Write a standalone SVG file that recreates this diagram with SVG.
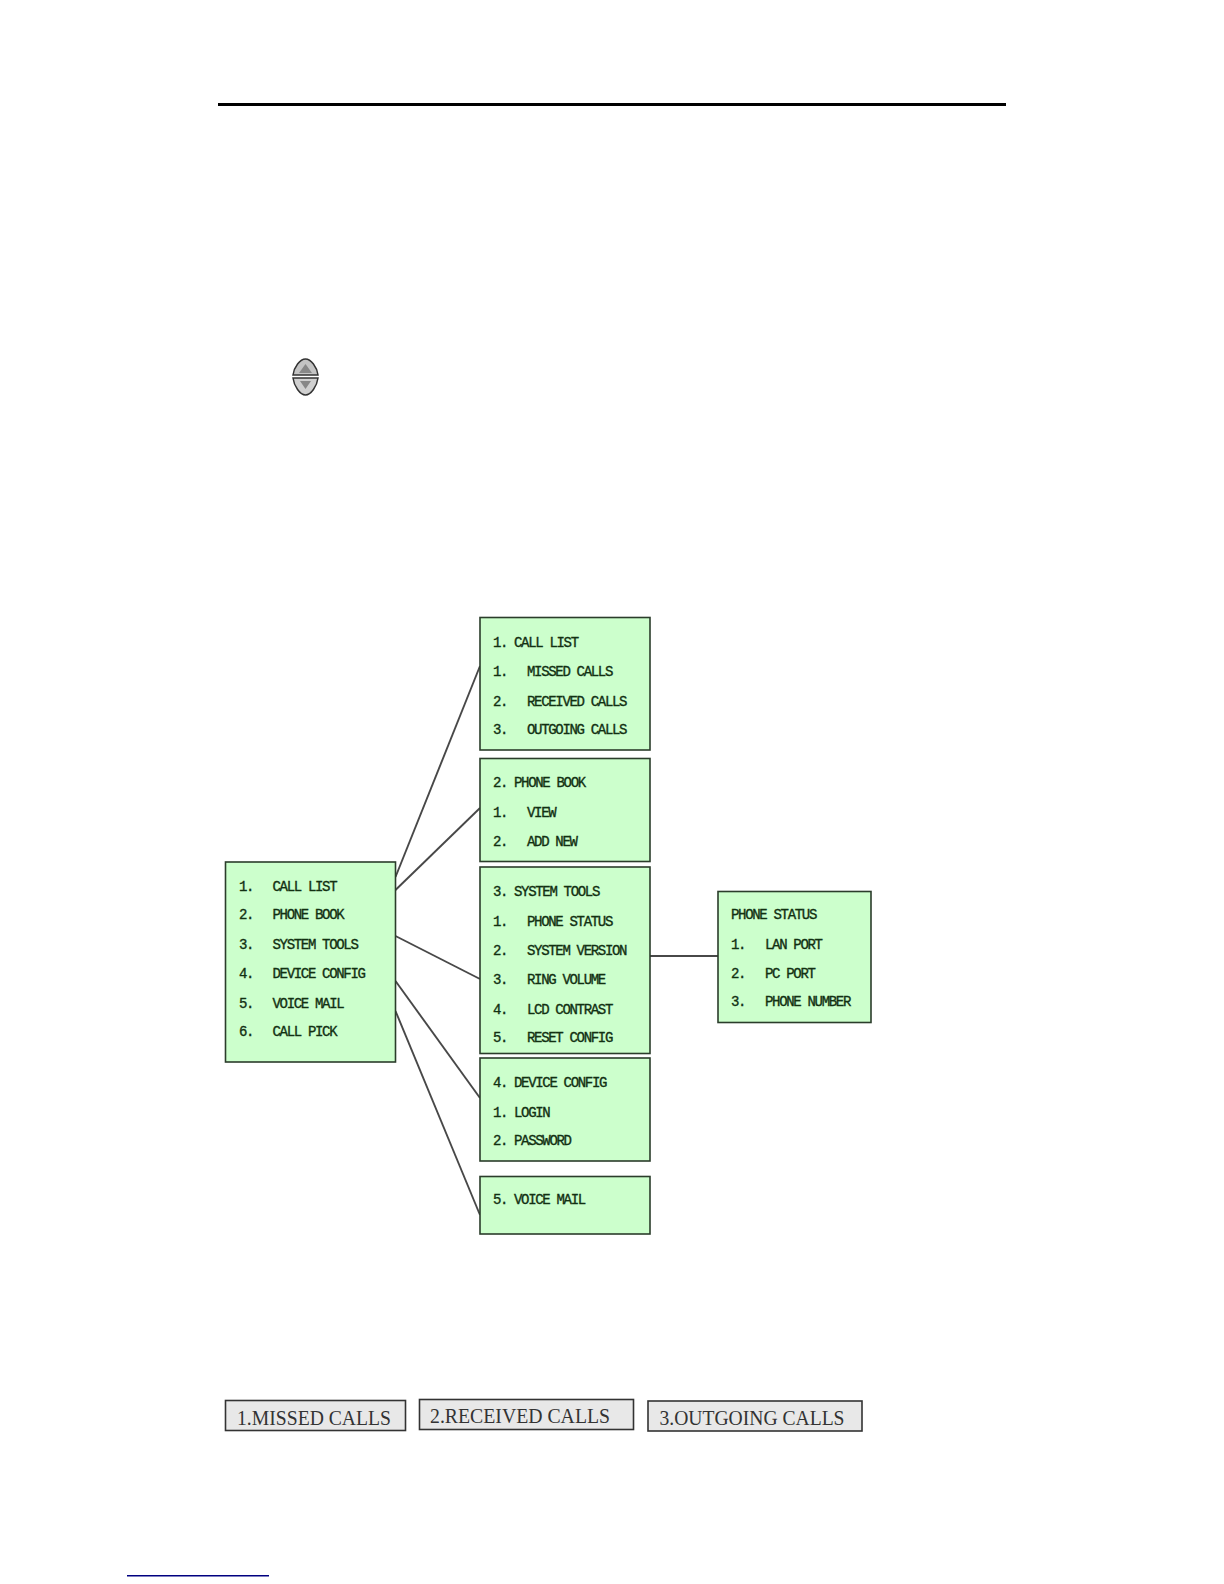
<svg xmlns="http://www.w3.org/2000/svg" width="1224" height="1584" viewBox="0 0 1224 1584">
<style>
.box{fill:#ccffcc;stroke:#2b3d2b;stroke-width:1.6}
.t{font-family:"Liberation Mono",monospace;font-size:14px;letter-spacing:-1.32px;fill:#123012;stroke:#123012;stroke-width:.35}
.link{stroke:#484848;stroke-width:1.9;fill:none}
.tab{fill:#e8e8e8;stroke:#333;stroke-width:1.6}
.tt{font-family:"Liberation Serif",serif;font-size:21px;fill:#333}
</style>
<rect width="1224" height="1584" fill="#fff"/>
<rect x="218" y="103" width="788" height="3" fill="#000"/>
<g id="updown-icon">
<path d="M293 375 C294 367 300 359 305.500 359 C311 359 317 367 318 375 Z" fill="#c4c4c4" stroke="#333" stroke-width="1.500"/>
<path d="M293 378 C294 386 300 395 305.500 395 C311 395 317 386 318 378 Z" fill="#d0d0d0" stroke="#333" stroke-width="1.500"/>
<path d="M299 373 L305.500 364 L312 373 Z" fill="#888"/>
<path d="M300 381 L311 381 L305.500 389 Z" fill="#888"/>
</g>
<g id="connectors">
<line class="link" x1="395.500" y1="877" x2="480" y2="666"/>
<line class="link" x1="395.500" y1="890" x2="480" y2="808"/>
<line class="link" x1="395.500" y1="936" x2="480" y2="979"/>
<line class="link" x1="395.500" y1="981" x2="480" y2="1098"/>
<line class="link" x1="395.500" y1="1011" x2="480" y2="1215"/>
<line class="link" x1="650" y1="956" x2="718" y2="956"/>
</g>
<g id="main-menu">
<rect class="box" x="225.500" y="862" width="170" height="200"/>
<text class="t" x="239" y="890.500">1.</text><text class="t" x="272.500" y="890.500">CALL LIST</text>
<text class="t" x="239" y="919">2.</text><text class="t" x="272.500" y="919">PHONE BOOK</text>
<text class="t" x="239" y="948.500">3.</text><text class="t" x="272.500" y="948.500">SYSTEM TOOLS</text>
<text class="t" x="239" y="978">4.</text><text class="t" x="272.500" y="978">DEVICE CONFIG</text>
<text class="t" x="239" y="1007.500">5.</text><text class="t" x="272.500" y="1007.500">VOICE MAIL</text>
<text class="t" x="239" y="1036">6.</text><text class="t" x="272.500" y="1036">CALL PICK</text>
</g>
<g id="call-list">
<rect class="box" x="480" y="617.500" width="170" height="132.500"/>
<text class="t" x="493" y="646.500">1.</text><text class="t" x="514" y="646.500">CALL LIST</text>
<text class="t" x="493" y="676">1.</text><text class="t" x="527" y="676">MISSED CALLS</text>
<text class="t" x="493" y="705.500">2.</text><text class="t" x="527" y="705.500">RECEIVED CALLS</text>
<text class="t" x="493" y="734">3.</text><text class="t" x="527" y="734">OUTGOING CALLS</text>
</g>
<g id="phone-book">
<rect class="box" x="480" y="758.500" width="170" height="103"/>
<text class="t" x="493" y="787">2.</text><text class="t" x="514" y="787">PHONE BOOK</text>
<text class="t" x="493" y="817">1.</text><text class="t" x="527" y="817">VIEW</text>
<text class="t" x="493" y="845.500">2.</text><text class="t" x="527" y="845.500">ADD NEW</text>
</g>
<g id="system-tools">
<rect class="box" x="480" y="867" width="170" height="186.500"/>
<text class="t" x="493" y="896">3.</text><text class="t" x="514" y="896">SYSTEM TOOLS</text>
<text class="t" x="493" y="926">1.</text><text class="t" x="527" y="926">PHONE STATUS</text>
<text class="t" x="493" y="954.500">2.</text><text class="t" x="527" y="954.500">SYSTEM VERSION</text>
<text class="t" x="493" y="984">3.</text><text class="t" x="527" y="984">RING VOLUME</text>
<text class="t" x="493" y="1013.500">4.</text><text class="t" x="527" y="1013.500">LCD CONTRAST</text>
<text class="t" x="493" y="1042">5.</text><text class="t" x="527" y="1042">RESET CONFIG</text>
</g>
<g id="device-config">
<rect class="box" x="480" y="1058" width="170" height="103"/>
<text class="t" x="493" y="1087">4.</text><text class="t" x="514" y="1087">DEVICE CONFIG</text>
<text class="t" x="493" y="1116.500">1.</text><text class="t" x="514" y="1116.500">LOGIN</text>
<text class="t" x="493" y="1145">2.</text><text class="t" x="514" y="1145">PASSWORD</text>
</g>
<g id="voice-mail">
<rect class="box" x="480" y="1176.500" width="170" height="57.500"/>
<text class="t" x="493" y="1204">5.</text><text class="t" x="514" y="1204">VOICE MAIL</text>
</g>
<g id="phone-status">
<rect class="box" x="718" y="891.500" width="153" height="131"/>
<text class="t" x="731" y="919">PHONE STATUS</text>
<text class="t" x="731" y="949">1.</text><text class="t" x="765" y="949">LAN PORT</text>
<text class="t" x="731" y="978">2.</text><text class="t" x="765" y="978">PC PORT</text>
<text class="t" x="731" y="1006">3.</text><text class="t" x="765" y="1006">PHONE NUMBER</text>
</g>
<g id="tab-missed">
<rect class="tab" x="225.500" y="1400.500" width="180" height="30"/>
<text class="tt" x="237" y="1424.500" textLength="154" lengthAdjust="spacingAndGlyphs">1.MISSED CALLS</text>
</g>
<g id="tab-received">
<rect class="tab" x="419.500" y="1399.500" width="214" height="30"/>
<text class="tt" x="430" y="1423" textLength="180" lengthAdjust="spacingAndGlyphs">2.RECEIVED CALLS</text>
</g>
<g id="tab-outgoing">
<rect class="tab" x="648" y="1401" width="214" height="30"/>
<text class="tt" x="659.500" y="1424.500" textLength="185" lengthAdjust="spacingAndGlyphs">3.OUTGOING CALLS</text>
</g>
<rect x="127" y="1575" width="142" height="1.500" fill="#000080"/>
</svg>
